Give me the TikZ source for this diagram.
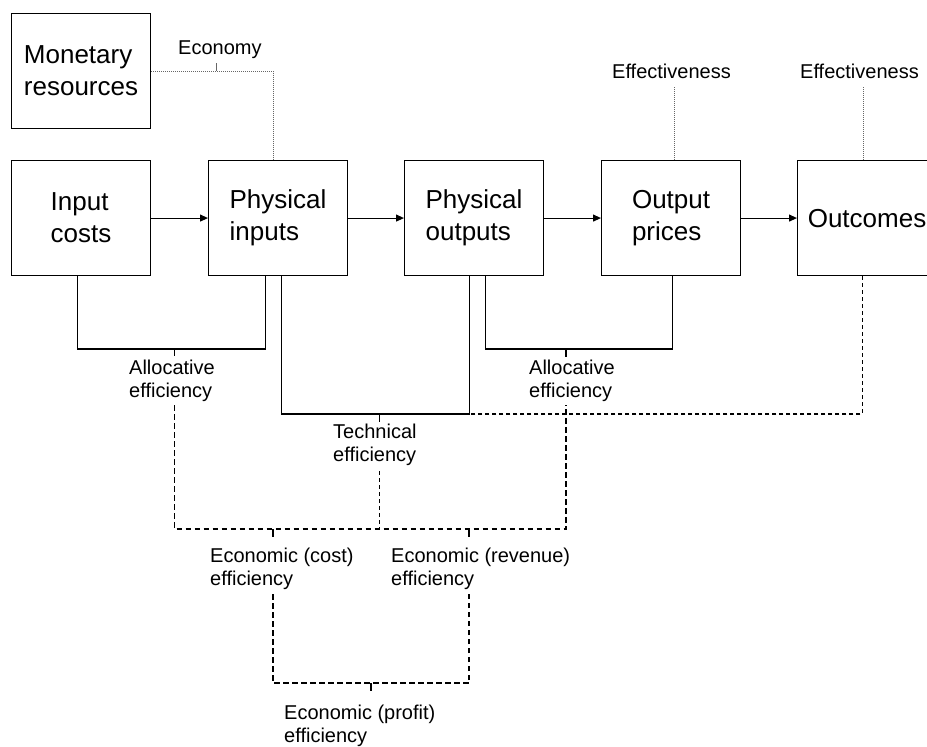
\documentclass[tikz,border=0pt]{standalone}
\usepackage{fontspec}
\setmainfont{Liberation Sans}
\usetikzlibrary{arrows.meta}
\begin{document}
\begin{tikzpicture}[x=1pt,y=-1pt,
  box/.style={draw, line width=1.1pt, minimum width=139pt, minimum height=115pt,
    anchor=north west, align=left, inner sep=0pt, font=\fontsize{26}{32}\selectfont},
  lab/.style={align=left, anchor=north west, inner sep=0pt, font=\fontsize{20}{23}\selectfont},
  sol/.style={line width=1.1pt},
  dsh/.style={line width=1.1pt, dash pattern=on 5.5pt off 3.5pt},
  dshf/.style={line width=1.1pt, dash pattern=on 4pt off 3pt},
  dot/.style={line width=0.9pt, black!60, dash pattern=on 1pt off 1pt},
  arr/.style={line width=1.1pt, -{Triangle[length=8pt,width=7pt]}}]
\useasboundingbox (0,0) rectangle (927,747);

% boxes
\node[box] (mr) at (11,13)  {Monetary\\resources};
\node[box] (ic) at (11,160) {Input\\costs};
\node[box] (pi) at (208,160) {Physical\\inputs};
\node[box] (po) at (404,160) {Physical\\outputs};
\node[box] (op) at (601,160) {Output\\prices};
\node[box] (oc) at (797,160) {Outcomes};

% arrows
\draw[arr] (ic.east) -- (pi.west);
\draw[arr] (pi.east) -- (po.west);
\draw[arr] (po.east) -- (op.west);
\draw[arr] (op.east) -- (oc.west);

% labels
\node[lab] (eco)  at (178,41)  {Economy};
\node[lab] (eff1) at (612,64)  {Effectiveness};
\node[lab] (eff2) at (800,64)  {Effectiveness};
\node[lab] (al1)  at (129,360) {Allocative\\efficiency};
\node[lab] (al2)  at (529,360) {Allocative\\efficiency};
\node[lab] (te)   at (333,424) {Technical\\efficiency};
\node[lab] (ec)   at (210,548) {Economic (cost)\\efficiency};
\node[lab] (er)   at (391,548) {Economic (revenue)\\efficiency};
\node[lab] (ep)   at (284,705) {Economic (profit)\\efficiency};

% helper coordinates
\coordinate (icL) at ([xshift=-3.5pt]ic.south);
\coordinate (piL) at ([xshift=-12.5pt]pi.south);
\coordinate (piR) at ([xshift=3.5pt]pi.south);
\coordinate (poL) at ([xshift=-4.5pt]po.south);
\coordinate (poR) at ([xshift=11.5pt]po.south);
\coordinate (opL) at ([xshift=1.5pt]op.south);
\coordinate (ocL) at ([xshift=-4.5pt]oc.south);
\coordinate (piT) at ([xshift=-4.5pt]pi.north);
\coordinate (opT) at ([xshift=3.5pt]op.north);
\coordinate (ocT) at ([xshift=-3.5pt]oc.north);
\coordinate (h0) at (0,86);
\coordinate (h1) at (0,349);
\coordinate (h2) at (0,414);
\coordinate (h3) at (0,529);
\coordinate (h4) at (0,683);
\coordinate (a1) at (174.5,349);
\coordinate (a2) at (566,349);
\coordinate (t1) at (379.5,414);
\coordinate (e1) at (273,529);
\coordinate (e2) at (469,529);
\coordinate (p1) at (371,683);
\coordinate (a1b) at (174.5,405);
\coordinate (a2b) at (566,405);
\coordinate (t1b) at (379.5,471);
\coordinate (e1b) at (273,594);
\coordinate (e2b) at (469,594);
\coordinate (ecoT) at (216,63);

% dotted links
\draw[dot] (mr.east) -| (piT);
\draw[line width=0.9pt, black!60] (ecoT) -- (ecoT |- mr.east);
\draw[dot] (opT) -- (opT |- h0);
\draw[dot] (ocT) -- (ocT |- h0);

% solid brackets
\draw[sol] (icL) -- (icL |- h1) -- (piL |- h1) -- (piL);
\draw[sol] (piR) -- (piR |- h2) -- (poL |- h2) -- (poL);
\draw[sol] (poR) -- (poR |- h1) -- (opL |- h1) -- (opL);
\draw[dshf] (ocL) -- (ocL |- h2) -- (poL |- h2);

% ticks
\draw[sol] (a1) -- ++(0,7);
\draw[sol] (a2) -- ++(0,8);
\draw[sol] (t1) -- ++(0,8);
\draw[sol] (e1) -- ++(0,8);
\draw[sol] (e2) -- ++(0,8);
\draw[sol] (p1) -- ++(0,8);

% dashed links
\draw[dsh] (a1b) -- (a1 |- h3) -- (a2 |- h3) -- (a2b);
\draw[dshf] (t1b) -- (t1 |- h3);
\draw[dsh] (e1b) -- (e1 |- h4) -- (e2 |- h4) -- (e2b);
\end{tikzpicture}
\end{document}
